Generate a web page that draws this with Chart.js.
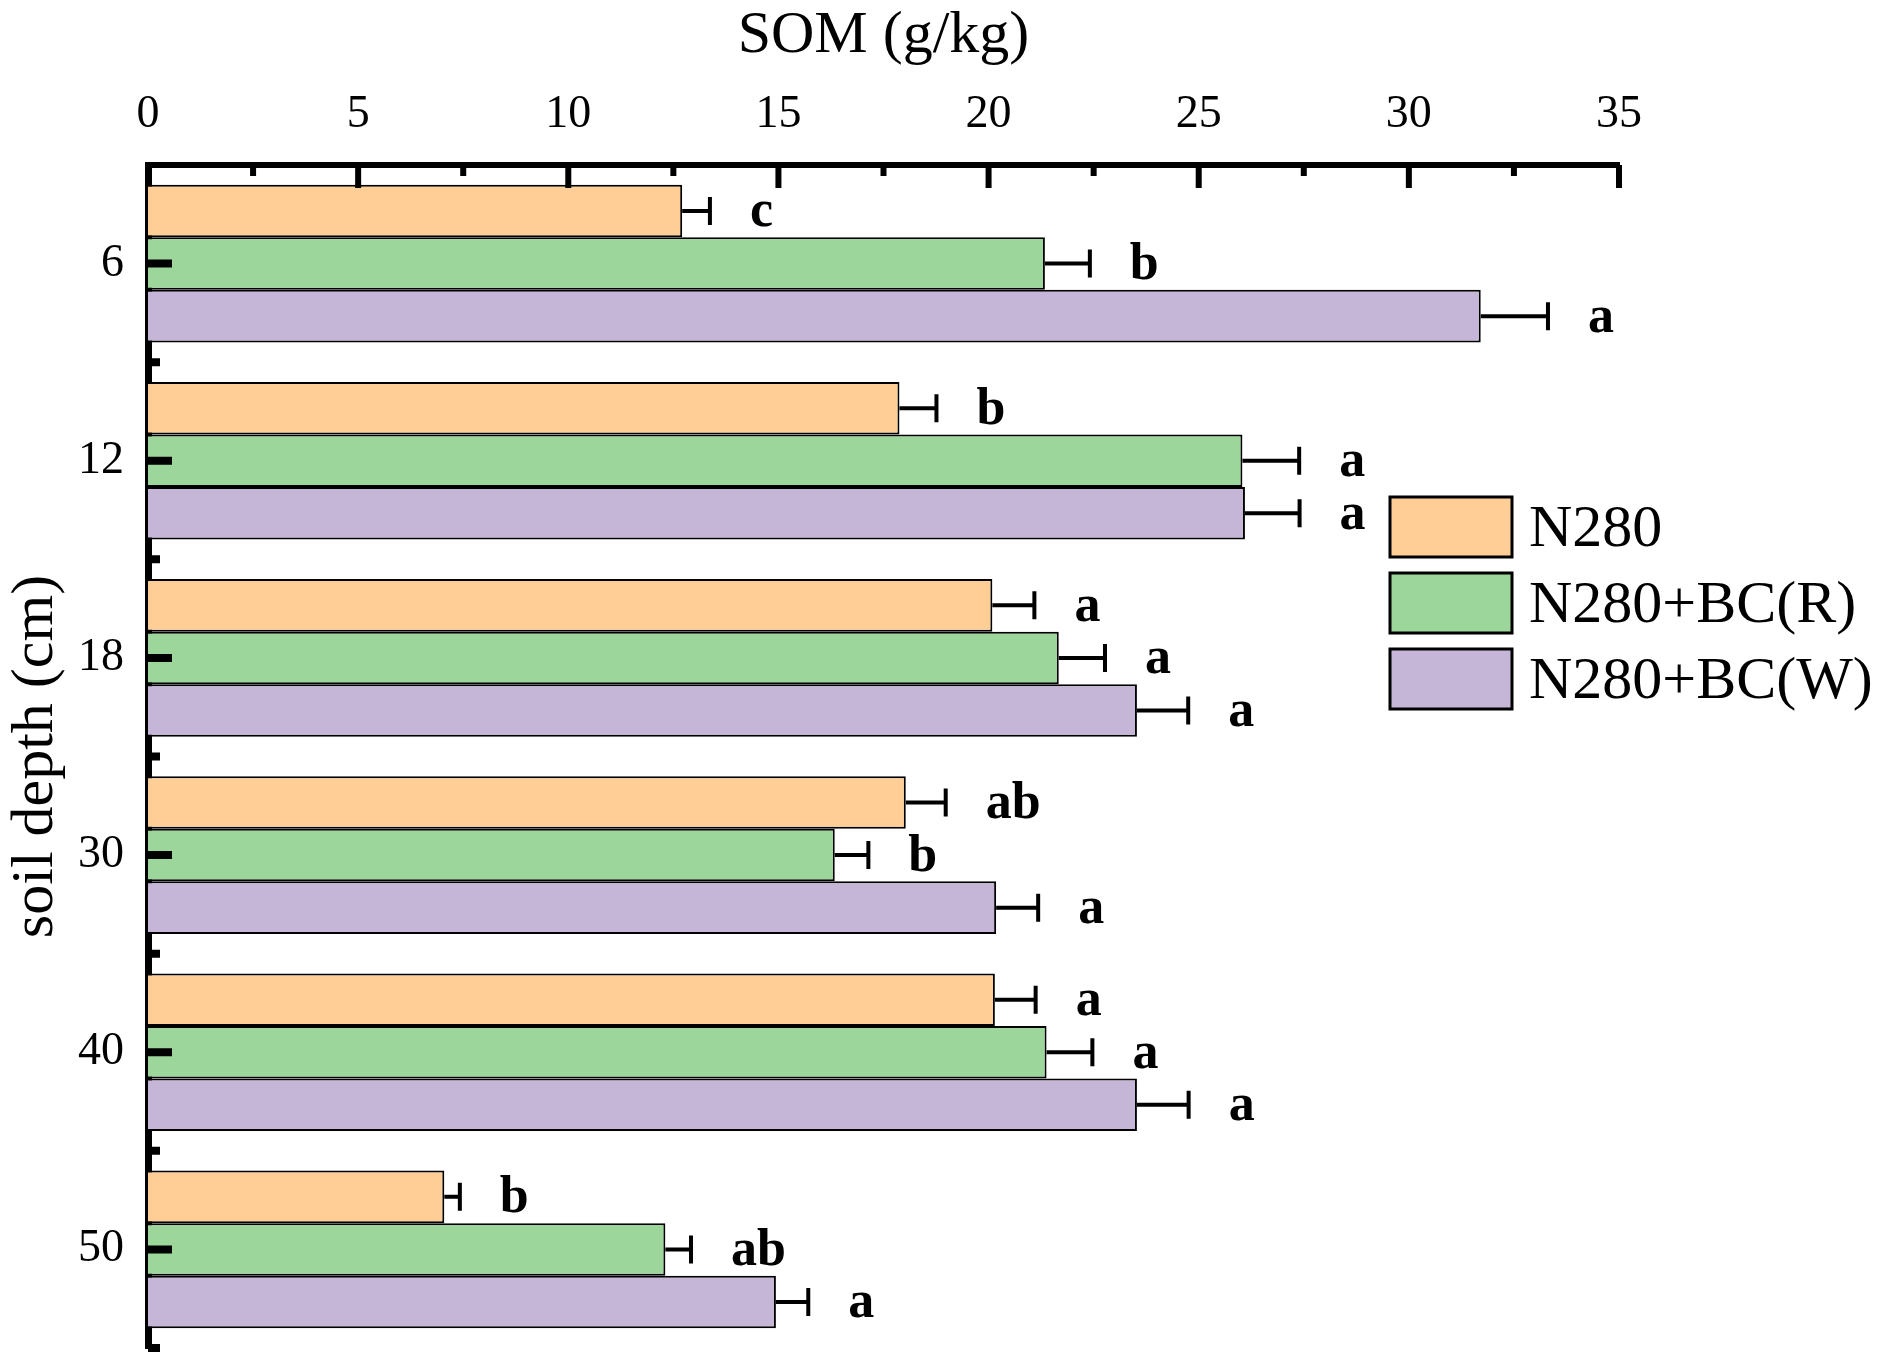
<!DOCTYPE html>
<html>
<head>
<meta charset="utf-8">
<script src="https://cdn.jsdelivr.net/npm/chart.js@4.4.1/dist/chart.umd.min.js"></script>
<style>
html,body{margin:0;padding:0;background:#fff;}
#wrap{width:1883px;height:1357px;}
</style>
</head>
<body>
<div id="wrap"><canvas id="c" width="1883" height="1357"></canvas></div>
<script>
const depths = ['6','12','18','30','40','50'];
const seriesNames = ['N280','N280+BC(R)','N280+BC(W)'];
const somN280 = [12.71, 17.88, 20.09, 18.03, 20.15, 7.05];
const somBCR  = [21.34, 26.04, 21.67, 16.34, 21.38, 12.31];
const somBCW  = [31.71, 26.10, 23.53, 20.18, 23.53, 14.94];
const errN280 = [0.66, 0.88, 1.00, 0.95, 0.97, 0.37];
const errBCR  = [1.07, 1.35, 1.10, 0.80, 1.09, 0.61];
const errBCW  = [1.60, 1.30, 1.22, 1.00, 1.23, 0.77];
const sigN280 = ['c','b','a','ab','a','b'];
const sigBCR  = ['b','a','a','b','a','ab'];
const sigBCW  = ['a','a','a','a','a','a'];
const colors  = ['#FECE96','#9DD69B','#C5B5D6'];
const xTicks  = [0,5,10,15,20,25,30,35];

const errs = [errN280, errBCR, errBCW];
const sigs = [sigN280, sigBCR, sigBCW];
const SERIF = "'Liberation Serif','Times New Roman',serif";

const decor = {
  id:'decor',
  afterDatasetsDraw(chart){
    const ctx = chart.ctx;
    const xs = chart.scales.x, ys = chart.scales.y;
    const ca = chart.chartArea;
    ctx.save();
    // error bars and letters
    chart.data.datasets.forEach((ds,i)=>{
      const meta = chart.getDatasetMeta(i);
      meta.data.forEach((el,j)=>{
        const v = ds.data[j];
        const cx = xs.getPixelForValue(v + errs[i][j]);
        ctx.strokeStyle = '#000';
        ctx.lineWidth = 4;
        ctx.beginPath();
        ctx.moveTo(el.x, el.y); ctx.lineTo(cx, el.y);
        ctx.moveTo(cx, el.y-14); ctx.lineTo(cx, el.y+14);
        ctx.stroke();
        ctx.fillStyle = '#000';
        ctx.font = 'bold 52px ' + SERIF;
        ctx.textAlign = 'left';
        ctx.textBaseline = 'middle';
        ctx.fillText(sigs[i][j], cx + 40, el.y + 2);
      });
    });
    // x ticks (top axis, inward)
    ctx.strokeStyle = '#000';
    ctx.lineWidth = 6;
    ctx.beginPath();
    for (let k=0;k<xTicks.length;k++){
      const t = xTicks[k];
      if (t>0){
        const px = xs.getPixelForValue(t);
        ctx.moveTo(px, ca.top); ctx.lineTo(px, ca.top+23);
      }
      if (k < xTicks.length-1){
        const pm = xs.getPixelForValue((t + xTicks[k+1])/2);
        ctx.moveTo(pm, ca.top); ctx.lineTo(pm, ca.top+11);
      }
    }
    ctx.stroke();
    // y ticks (left axis, inward)
    ctx.lineWidth = 8;
    ctx.beginPath();
    const n = depths.length;
    const step = (ca.bottom - ca.top)/n;
    for (let j=0;j<n;j++){
      const py = ys.getPixelForValue(j);
      ctx.moveTo(ca.left, py); ctx.lineTo(ca.left+24, py);
    }
    for (let j=1;j<=n;j++){
      const pb = ca.top + step*j;
      ctx.moveTo(ca.left, pb); ctx.lineTo(ca.left+12, pb);
    }
    ctx.stroke();
    // legend
    const lx = 1390, ly0 = 497, lh = 76;
    chart.data.datasets.forEach((ds,i)=>{
      const y = ly0 + i*lh;
      ctx.fillStyle = ds.backgroundColor;
      ctx.fillRect(lx, y, 122, 60);
      ctx.lineWidth = 3;
      ctx.strokeStyle = '#000';
      ctx.strokeRect(lx, y, 122, 60);
      ctx.fillStyle = '#000';
      ctx.font = '60px ' + SERIF;
      ctx.textAlign = 'left';
      ctx.textBaseline = 'middle';
      ctx.fillText(ds.label, 1529, y + 33);
    });
    ctx.restore();
  }
};

const chart = new Chart(document.getElementById('c'), {
  type:'bar',
  data:{
    labels: depths,
    datasets:[
      {label:seriesNames[0], data:somN280, backgroundColor:colors[0]},
      {label:seriesNames[1], data:somBCR, backgroundColor:colors[1]},
      {label:seriesNames[2], data:somBCW, backgroundColor:colors[2]}
    ]
  },
  options:{
    indexAxis:'y',
    responsive:false,
    animation:false,
    devicePixelRatio:1,
    layout:{padding:{left:0, top:0, right:264, bottom:9}},
    datasets:{bar:{barPercentage:1.0, categoryPercentage:0.8, borderColor:'#000', borderWidth:2}},
    plugins:{legend:{display:false}, tooltip:{enabled:false}},
    scales:{
      x:{
        position:'top', min:0, max:35,
        afterBuildTicks(s){ s.ticks = xTicks.map(v=>({value:v})); },
        grid:{display:false, drawTicks:false},
        border:{display:true, color:'#000', width:6},
        ticks:{color:'#000', font:{family:SERIF, size:46}, padding:22, maxRotation:0},
        title:{display:true, text:'SOM (g/kg)', color:'#000', font:{family:SERIF, size:60}, padding:{top:0,bottom:0}},
        afterFit(s){ s.height = 165; s.paddingLeft = 0; s.paddingRight = 0; }
      },
      y:{
        grid:{display:false, drawTicks:false},
        border:{display:true, color:'#000', width:7},
        ticks:{color:'#000', font:{family:SERIF, size:46}, padding:24},
        title:{display:true, text:'soil depth (cm)', color:'#000', font:{family:SERIF, size:60}, padding:{top:0,bottom:0}},
        afterFit(s){ s.width = 148; s.paddingTop = 0; s.paddingBottom = 0; }
      }
    }
  },
  plugins:[decor]
});
</script>
</body>
</html>
